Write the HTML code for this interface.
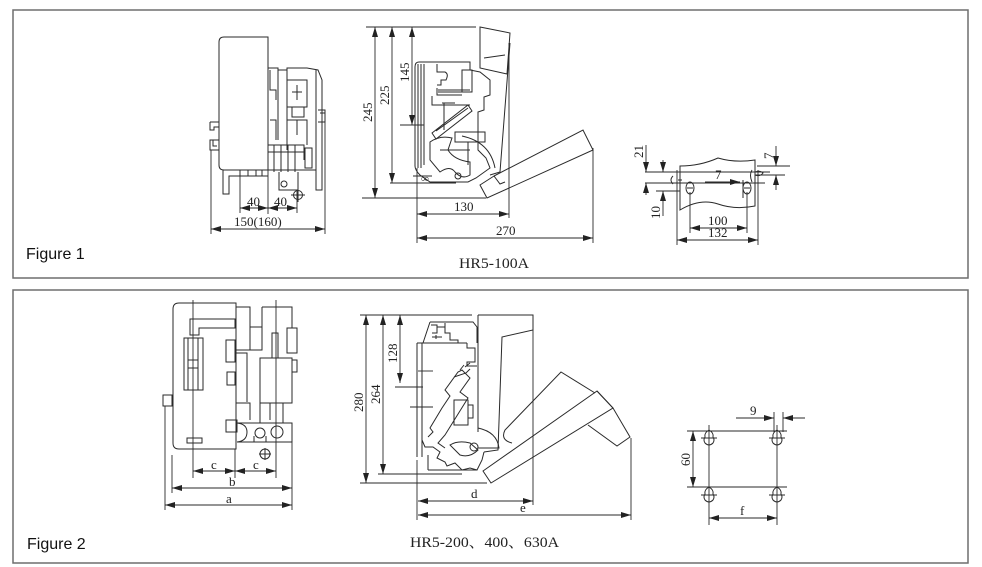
<!DOCTYPE html>
<html><head><meta charset="utf-8"><style>
html,body{margin:0;padding:0;background:#fff;}
svg{display:block;}
.l{fill:none;stroke:#2a2a2a;stroke-width:1;}
.d{fill:none;stroke:#2a2a2a;stroke-width:0.9;}
.t{font-family:"Liberation Serif",serif;font-size:13px;fill:#222;}
.f{font-family:"Liberation Sans",Arial,sans-serif;font-size:16px;fill:#111;}
</style></head><body>
<svg width="982" height="567" viewBox="0 0 982 567" xmlns="http://www.w3.org/2000/svg">
<defs>
<marker id="a" viewBox="0 0 10 6" refX="10" refY="3" markerWidth="10" markerHeight="6" markerUnits="userSpaceOnUse" orient="auto-start-reverse"><path d="M0,0 L10,3 L0,6 z" fill="#222"/></marker>
</defs>
<rect x="13" y="10" width="955" height="268" fill="none" stroke="#6e6e6e" stroke-width="1.5"/>
<rect x="13" y="290" width="955" height="273" fill="none" stroke="#6e6e6e" stroke-width="1.5"/>
<text class="f" x="26" y="259">Figure 1</text>
<text class="f" x="27" y="549">Figure 2</text>

<!-- ===== FIGURE 1 LEFT ===== -->
<g class="l">
<path d="M224,37 H268 V170 H224 Q219,170 219,165 V42 Q219,37 224,37 Z"/>
<path d="M210,122 H219 M210,122 V130 H214 V127 H219 M210,140 H219 V150 H210 Z M213,140 V146 H217"/>
<path d="M268,68 H278 V140 M278,70 H287 V68 H307 L318,70 L322,80 V190 L316,190 V70"/>
<path d="M270,70 V90 H276 V100 M270,120 H276 V140"/>
<path d="M287,68 V150 M287,80 H307 V107 H287 M297,85 V100 M292,92 H302 M292,107 V117 H304 V107 M297,120 V135 M287,120 H307 V145"/>
<path d="M318,110 H325 V122 H318 M320,113 H325"/>
<path d="M268,145 H304 V160 M274,145 V172 M281,145 V172 M288,145 V172 M295,145 V172 M268,152 H304"/>
<path d="M305,148 H312 V168 H305 Z"/>
<path d="M223,170 H316 M223,170 V194 H229 V176 H268 M240,170 V176 M248,170 V176 M256,170 V176 M262,170 V176"/>
<path d="M279,172 V190 H298 V172"/>
<circle cx="284" cy="184" r="3"/>
<circle cx="298" cy="195" r="4.5"/>
<path d="M298,188 V202 M291,195 H305"/>
</g>
<g class="d">
<line x1="268" y1="140" x2="268" y2="214"/>
<line x1="240" y1="176" x2="240" y2="213"/>
<line x1="297" y1="190" x2="297" y2="213"/>
<line x1="240" y1="208" x2="268" y2="208" marker-start="url(#a)" marker-end="url(#a)"/>
<line x1="268" y1="208" x2="297" y2="208" marker-start="url(#a)" marker-end="url(#a)"/>
<line x1="211" y1="150" x2="211" y2="234"/>
<line x1="325" y1="122" x2="325" y2="234"/>
<line x1="211" y1="229" x2="325" y2="229" marker-start="url(#a)" marker-end="url(#a)"/>
</g>
<text class="t" x="247" y="206">40</text>
<text class="t" x="274" y="206">40</text>
<text class="t" x="234" y="226">150(160)</text>

<!-- ===== FIGURE 1 MIDDLE ===== -->
<g class="d">
<line x1="366" y1="27" x2="476" y2="27"/>
<line x1="362" y1="198" x2="486" y2="198"/>
<line x1="390" y1="183" x2="456" y2="183"/>
<line x1="375" y1="27" x2="375" y2="198" marker-start="url(#a)" marker-end="url(#a)"/>
<line x1="392" y1="27" x2="392" y2="183" marker-start="url(#a)" marker-end="url(#a)"/>
<line x1="412" y1="27" x2="412" y2="125" marker-start="url(#a)" marker-end="url(#a)"/>
<line x1="400" y1="125" x2="424" y2="125"/>
<line x1="417" y1="168" x2="417" y2="243"/>
<line x1="509" y1="43" x2="509" y2="218"/>
<line x1="593" y1="148" x2="593" y2="243"/>
<line x1="417" y1="214" x2="509" y2="214" marker-start="url(#a)" marker-end="url(#a)"/>
<line x1="417" y1="238" x2="593" y2="238" marker-start="url(#a)" marker-end="url(#a)"/>
</g>
<text class="t" transform="translate(372,122) rotate(-90)">245</text>
<text class="t" transform="translate(389,105) rotate(-90)">225</text>
<text class="t" transform="translate(409,82) rotate(-90)">145</text>
<text class="t" x="454" y="211">130</text>
<text class="t" x="496" y="235">270</text>
<g class="l">
<path d="M419,62 H470 V70 L480,72 L490,80 V95 L484,97 V110 L478,112 V150 L486,158 L490,168 L476,178 L468,182 H430 L420,175 Q415,170 415,166 V67 Q415,62 419,62 Z"/>
<path d="M418,64 V168 M421,64 V168 M424,64 V165"/>
<path d="M437,64 V72 H445 Q449,74 446,80 L441,80 V85 H437 M437,88 V95 H462 M438,92 H470 M438,90 H470 M432,96 V105 H470"/>
<path d="M444,103 V130 M442,103 H455"/>
<path d="M432,133 L468,105 L472,111 L436,139 Z M436,131 L468,108"/>
<path d="M462,70 H472 V92 H462 Z"/>
<path d="M455,132 H485 V142 H455 Z M468,142 V165 M440,150 H470"/>
<path d="M430,142 Q440,135 452,138 L448,150 Q454,160 470,162 L470,175 Q462,180 455,172 Q450,165 440,172 L430,160 Z"/>
<path d="M462,136 Q490,142 495,168"/>
<circle cx="458" cy="176" r="3"/>
<text x="421" y="182" style="font-family:'Liberation Serif',serif;font-size:11px;fill:#222;stroke:none">∞</text>
<path d="M413,176 H432"/>
<path d="M480,27 L510,33 L507,74 L480,68 Z M484,58 L505,55 M510,43 L500,172 L490,175"/>
<path d="M494,176 L583,130 L593,150 L487,198 L480,185 Z M494,176 L500,184 L505,182"/>
</g>
<text class="t" x="459" y="268" textLength="70" lengthAdjust="spacingAndGlyphs" style="font-size:15px">HR5-100A</text>

<!-- ===== FIGURE 1 RIGHT ===== -->
<g class="l">
<path d="M680,166 Q700,166 718,158 Q735,163 755,160 V206 Q735,210 718,204 Q700,198 680,210 Z"/>
<ellipse cx="690" cy="188" rx="4" ry="6"/>
<ellipse cx="747" cy="188" rx="4" ry="6"/>
<path d="M687,188 H693 M744,188 H750"/>
<path d="M752,170 Q749,175 752,182 M755,172 Q760,170 763,173 Q760,177 755,175"/>
<path d="M673,176 Q669,180 673,184 M678,180 H682"/>
<path d="M743,180 V198"/>
</g>
<g class="d">
<line x1="645" y1="172" x2="770" y2="172"/>
<line x1="645" y1="183" x2="765" y2="183"/>
<line x1="757" y1="166" x2="790" y2="166"/>
<line x1="646" y1="145" x2="646" y2="172" marker-end="url(#a)"/>
<line x1="646" y1="195" x2="646" y2="183" marker-end="url(#a)"/>
<line x1="663" y1="160" x2="663" y2="172" marker-end="url(#a)"/>
<line x1="663" y1="216" x2="663" y2="191" marker-end="url(#a)"/>
<line x1="656" y1="191" x2="680" y2="191"/>
<line x1="776" y1="146" x2="776" y2="166" marker-end="url(#a)"/>
<line x1="776" y1="190" x2="776" y2="175" marker-end="url(#a)"/>
<line x1="755" y1="175" x2="785" y2="175"/>
<line x1="705" y1="182" x2="740" y2="182" marker-end="url(#a)"/>
<line x1="677" y1="170" x2="677" y2="245"/>
<line x1="690" y1="192" x2="690" y2="233"/>
<line x1="747" y1="192" x2="747" y2="233"/>
<line x1="758" y1="170" x2="758" y2="245"/>
<line x1="690" y1="228" x2="747" y2="228" marker-start="url(#a)" marker-end="url(#a)"/>
<line x1="677" y1="240" x2="758" y2="240" marker-start="url(#a)" marker-end="url(#a)"/>
</g>
<text class="t" transform="translate(643,158) rotate(-90)">21</text>
<text class="t" transform="translate(660,219) rotate(-90)">10</text>
<text class="t" transform="translate(773,159) rotate(-90)">7</text>
<text class="t" x="715" y="179">7</text>
<text class="t" x="708" y="225">100</text>
<text class="t" x="708" y="237">132</text>

<!-- ===== FIGURE 2 LEFT ===== -->
<g class="l">
<path d="M179,303 H236 V449 H179 Q173,449 173,443 V309 Q173,303 179,303 Z"/>
<path d="M190,319 H235 V328 H199 V335 H190 Z"/>
<path d="M184,338 H203 V390 H184 Z M188,338 V390 M198,338 V390 M188,360 H198 M188,368 H198"/>
<path d="M226,340 H235 V362 H226 Z M227,372 H235 V385 H227 Z"/>
<path d="M187,438 H202 V443 H187 Z"/>
<path d="M226,420 H237 V432 H226 Z"/>
<path d="M237,423 Q247,424 247,432 Q247,441 237,442"/>
<path d="M163,395 H172 V406 H163 Z"/>
<path d="M236,307 H250 V350 M250,327 H262 V350 H236 M262,307 H292 V328 H287 V353 H297 V328 H292 M262,307 V328"/>
<path d="M236,353 H247 V402 M260,358 H292 V403 H260 Z M272,333 H278 V358 H272 Z M292,360 H297 V372 H292"/>
<path d="M236,403 H250 V420 M260,403 V423 M270,403 V420 M283,403 V423"/>
<path d="M237,423 H292 V442 H237"/>
<circle cx="260" cy="433" r="5"/>
<path d="M254,436 V442 M266,436 V442"/>
<circle cx="277" cy="432" r="6"/>
<circle cx="265" cy="454" r="5"/>
<path d="M265,448 V460 M259,454 H271"/>
</g>
<g class="d">
<line x1="193" y1="300" x2="193" y2="478"/>
<line x1="276" y1="300" x2="276" y2="478"/>
<line x1="235" y1="449" x2="235" y2="478"/>
<line x1="193" y1="471" x2="235" y2="471" marker-start="url(#a)" marker-end="url(#a)"/>
<line x1="235" y1="471" x2="276" y2="471" marker-start="url(#a)" marker-end="url(#a)"/>
<line x1="172" y1="455" x2="172" y2="493"/>
<line x1="292" y1="442" x2="292" y2="510"/>
<line x1="165" y1="406" x2="165" y2="510"/>
<line x1="172" y1="488" x2="292" y2="488" marker-start="url(#a)" marker-end="url(#a)"/>
<line x1="165" y1="505" x2="292" y2="505" marker-start="url(#a)" marker-end="url(#a)"/>
</g>
<text class="t" x="211" y="469">c</text>
<text class="t" x="253" y="469">c</text>
<text class="t" x="229" y="486">b</text>
<text class="t" x="226" y="503">a</text>

<!-- ===== FIGURE 2 MIDDLE ===== -->
<g class="d">
<line x1="360" y1="315" x2="472" y2="315"/>
<line x1="360" y1="483" x2="487" y2="483"/>
<line x1="378" y1="474" x2="462" y2="474"/>
<line x1="366" y1="315" x2="366" y2="483" marker-start="url(#a)" marker-end="url(#a)"/>
<line x1="383" y1="315" x2="383" y2="474" marker-start="url(#a)" marker-end="url(#a)"/>
<line x1="400" y1="315" x2="400" y2="383" marker-start="url(#a)" marker-end="url(#a)"/>
<line x1="395" y1="387" x2="423" y2="387"/>
<line x1="410" y1="407" x2="433" y2="407"/>
<line x1="418" y1="371" x2="433" y2="371"/>
<line x1="417" y1="460" x2="417" y2="520"/>
<line x1="533" y1="330" x2="533" y2="505"/>
<line x1="631" y1="438" x2="631" y2="520"/>
<line x1="418" y1="501" x2="533" y2="501" marker-start="url(#a)" marker-end="url(#a)"/>
<line x1="418" y1="515" x2="631" y2="515" marker-start="url(#a)" marker-end="url(#a)"/>
</g>
<text class="t" transform="translate(363,412) rotate(-90)">280</text>
<text class="t" transform="translate(380,404) rotate(-90)">264</text>
<text class="t" transform="translate(397,363) rotate(-90)">128</text>
<text class="t" x="471" y="498">d</text>
<text class="t" x="520" y="512">e</text>
<g class="l">
<path d="M417,343 V457 M422,343 V457 M417,343 H467"/>
<path d="M430,322 H473 L477,327 V343 M430,322 L423,343"/>
<path d="M431,325 H437 V333 H432 M437,327 H445 V333 H450 V340 H458 V343 M445,327 V323 M432,337 H442 M436,335 V339"/>
<path d="M467,343 V348 H475 V362 H467 V366 H477"/>
<path d="M422,440 L425,447 H433 L440,452 L437,458 L445,462 L447,466 L455,463 L462,470 L470,468 L477,470 L482,460 L484,452"/>
<path d="M428,470 H477 M428,455 V470"/>
<path d="M428,437 L433,432 L430,428 L442,408 L450,396 L445,390 L458,372 L462,370 L470,378 L460,392 L468,398 L445,435 L438,443 L445,448"/>
<path d="M454,377 L466,373 L470,369 M460,370 L464,365 M465,367 L470,363"/>
<path d="M454,400 H468 V425 H454 Z M468,405 H473 V418 H468"/>
<path d="M450,445 Q458,440 470,443 L478,450 Q470,458 460,455 Z"/>
<circle cx="474" cy="447" r="4"/>
<path d="M478,428 Q497,432 499,448 L478,448"/>
<path d="M478,315 H533 V330 L502,337 L498,450 L484,452 M478,315 V432"/>
<path d="M483,471 L597,391 L613,408 L491,483 Z"/>
<path d="M597,391 L613,408 L630,437 L617,446 L588,425"/>
<path d="M512,443 Q500,440 505,430 L561,372 L595,393"/>
</g>
<text class="t" x="410" y="547" textLength="149" lengthAdjust="spacingAndGlyphs" style="font-family:'Liberation Serif','Noto Serif CJK SC',serif;font-size:15px">HR5-200、400、630A</text>

<!-- ===== FIGURE 2 RIGHT ===== -->
<g class="l">
<path d="M709,430 Q714,433 713,437 Q715,440 713,443 Q709,447 705,443 Q703,440 705,437 Q704,433 709,430 Z"/>
<path d="M777,430 Q782,433 781,437 Q783,440 781,443 Q777,447 773,443 Q771,440 773,437 Q772,433 777,430 Z"/>
<path d="M709,487 Q714,490 713,494 Q715,497 713,500 Q709,504 705,500 Q703,497 705,494 Q704,490 709,487 Z"/>
<path d="M777,487 Q782,490 781,494 Q783,497 781,500 Q777,504 773,500 Q771,497 773,494 Q772,490 777,487 Z"/>
<path d="M701,438 H717 M769,438 H785 M701,495 H717 M769,495 H785"/>
</g>
<g class="d">
<line x1="687" y1="431" x2="787" y2="431"/>
<line x1="687" y1="487" x2="787" y2="487"/>
<line x1="709" y1="425" x2="709" y2="525"/>
<line x1="777" y1="425" x2="777" y2="525"/>
<line x1="774" y1="412" x2="774" y2="432"/>
<line x1="783" y1="412" x2="783" y2="432"/>
<line x1="693" y1="431" x2="693" y2="487" marker-start="url(#a)" marker-end="url(#a)"/>
<line x1="736" y1="418" x2="774" y2="418" marker-end="url(#a)"/>
<line x1="805" y1="418" x2="783" y2="418" marker-end="url(#a)"/>
<line x1="709" y1="518" x2="777" y2="518" marker-start="url(#a)" marker-end="url(#a)"/>
</g>
<text class="t" transform="translate(690,466) rotate(-90)">60</text>
<text class="t" x="750" y="415">9</text>
<text class="t" x="740" y="515">f</text>
</svg>
</body></html>
